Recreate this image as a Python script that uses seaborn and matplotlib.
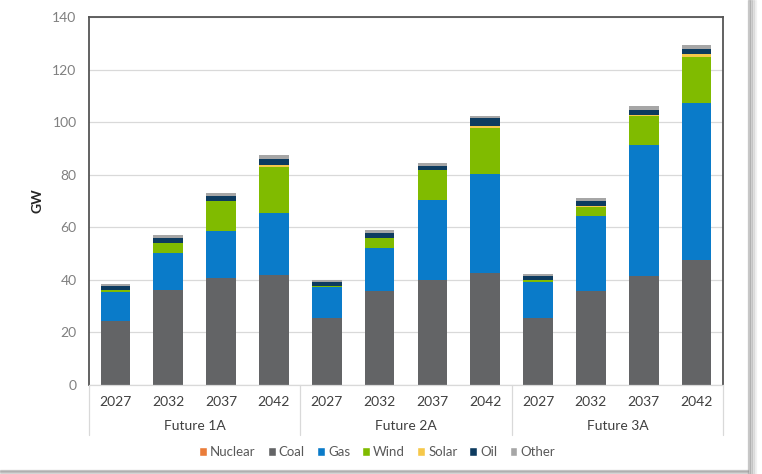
import numpy as np
import pandas as pd
import matplotlib.pyplot as plt
import seaborn as sns
from matplotlib.patches import Patch, Rectangle
from matplotlib.transforms import blended_transform_factory

futures = ["Future 1A", "Future 2A", "Future 3A"]
years = ["2027", "2032", "2037", "2042"]
sources = ["Nuclear", "Coal", "Gas", "Wind", "Solar", "Oil", "Other"]
colors = {"Nuclear": "#ea7d3a", "Coal": "#636466", "Gas": "#0a7bc9",
          "Wind": "#80bb00", "Solar": "#f6c84a", "Oil": "#0d3b5f",
          "Other": "#a6a6a6"}

# values per bar, order: 1A 2027..2042, 2A 2027..2042, 3A 2027..2042
nuclear = [0, 0, 0, 0, 0, 0, 0, 0, 0, 0, 0, 0]
coal = [24.3, 36.0, 40.6, 42.0, 25.3, 35.7, 40.1, 42.5, 25.3, 35.7, 41.6, 47.5]
gas = [11.2, 14.4, 17.9, 23.3, 11.8, 16.3, 30.2, 37.6, 14.0, 28.6, 49.7, 59.6]
wind = [0.6, 3.7, 11.5, 17.7, 0.6, 3.9, 11.4, 17.5, 0.5, 3.6, 11.2, 17.7]
solar = [0.0, 0.1, 0.1, 0.6, 0.0, 0.1, 0.2, 1.0, 0.0, 0.1, 0.2, 1.0]
oil = [1.5, 1.9, 1.8, 2.5, 1.3, 1.9, 1.6, 2.9, 1.6, 2.0, 2.1, 2.2]
other = [0.7, 1.0, 1.1, 1.4, 0.8, 0.9, 1.1, 1.0, 0.8, 1.0, 1.2, 1.3]

bars = [f + " " + y for f in futures for y in years]
df = pd.DataFrame({"Nuclear": nuclear, "Coal": coal, "Gas": gas, "Wind": wind,
                   "Solar": solar, "Oil": oil, "Other": other}, index=bars)
tops = df[sources].cumsum(axis=1)

sns.set_style("white")
plt.rcParams["font.family"] = ["Lato", "DejaVu Sans"]

fig = plt.figure(figsize=(7.62, 4.74), dpi=100)
ax = fig.add_axes([89 / 762, 89 / 474, 634 / 762, 368 / 474])

# stacked bars: draw cumulative tops from the last layer down
for s in sources[::-1]:
    d = pd.DataFrame({"bar": bars, "top": tops[s].values})
    sns.barplot(data=d, x="bar", y="top", order=bars, color=colors[s],
                width=0.56, linewidth=0, saturation=1, errorbar=None, ax=ax)

ax.set_xlim(-0.5, 11.5)
ax.set_ylim(0, 140)
ax.set_yticks(range(0, 141, 20))
ax.yaxis.grid(True, color="#d9d9d9", lw=0.9)
ax.set_axisbelow(True)
ax.set_xticks(range(12))
ax.set_xticklabels(years * 3)
ax.tick_params(axis="x", length=0, pad=8, labelsize=10, labelcolor="#404040")
ax.tick_params(axis="y", length=0, pad=9, labelsize=10, labelcolor="#808080")
ax.set_xlabel("")
ax.set_ylabel("GW", fontsize=10, fontweight="bold", color="#262626", labelpad=6)

for side in ["left", "top", "right"]:
    ax.spines[side].set_color("#555555")
    ax.spines[side].set_linewidth(1.3)
ax.spines["bottom"].set_color("#d9d9d9")
ax.spines["bottom"].set_linewidth(0.9)

tr = blended_transform_factory(ax.transData, ax.transAxes)
for xs in [-0.5, 3.5, 7.5, 11.5]:
    ax.plot([xs, xs], [0, -0.136], transform=tr, color="#d9d9d9", lw=0.9,
            clip_on=False)
for i, f in enumerate(futures):
    ax.text(i * 4 + 1.5, -0.111, f, transform=tr, ha="center", va="center",
            fontsize=10, color="#404040")

handles = [Patch(facecolor=colors[s], label=s) for s in sources]
fig.legend(handles=handles, loc="center", bbox_to_anchor=(0.495, 0.046),
           ncol=7, frameon=False, fontsize=9.5, labelcolor="#595959",
           handlelength=0.6, handleheight=0.6, handletextpad=0.25,
           columnspacing=0.9)

# card shadow on the right and bottom
for k, a in enumerate([0.35, 0.25, 0.15, 0.08]):
    fig.patches.append(Rectangle(((748 + 2 * k) / 762, 0), 2 / 762, 1,
                                 transform=fig.transFigure, color="#888888",
                                 alpha=a, zorder=-1))
    fig.patches.append(Rectangle((0, (4 - k) / 474 - 1 / 474), 748 / 762, 1 / 474,
                                 transform=fig.transFigure, color="#888888",
                                 alpha=a, zorder=-1))

fig.savefig("out.png", dpi=100)
